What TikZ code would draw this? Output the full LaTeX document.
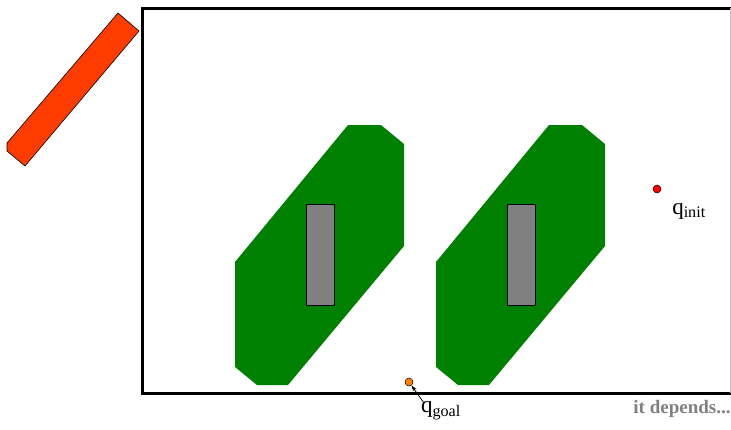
\documentclass[tikz,border=0pt]{standalone}
\usepackage{fontspec}
\setmainfont{Liberation Serif}
\usetikzlibrary{arrows.meta,positioning}

\definecolor{cspacegreen}{RGB}{0,128,0}
\definecolor{robotred}{RGB}{255,60,0}

\begin{document}
\begin{tikzpicture}[x=1pt, y=-1pt,
  wall/.style={line width=3pt, draw=black},
  cobst/.style={fill=cspacegreen, draw=none},
  obst/.style={fill=black!50, draw=black, line width=0.6pt},
  conf/.style={circle, draw=black, line width=0.5pt, inner sep=0pt, minimum size=8pt},
  lbl/.style={font=\fontsize{23}{25}\selectfont, inner sep=1pt},
  arr/.style={-{Stealth[length=6pt, width=4pt]}, line width=0.8pt},
]
\useasboundingbox (0,0) rectangle (731,429);

% workspace border
\draw[wall] (731,8) -- (142,8) -- (142,393) -- (731,393);
\draw[black!25, line width=0.8pt] (730,8) -- (730,393);

% robot
\draw[fill=robotred, draw=black, line width=0.6pt]
  (118,13) -- (139,31) -- (25,166) -- (7,151) -- (7,143) -- cycle;

% C-space obstacles with the real obstacles inside
\foreach \dx in {0,201} {
  \fill[cobst, xshift=\dx pt] (348,125) -- (381,125) -- (404,144) -- (404,246)
    -- (288,385) -- (257,385) -- (235,367) -- (235,262) -- cycle;
  \draw[obst, xshift=\dx pt] (306,204) rectangle (334,305);
}

% configurations
\node[conf, fill=red] (qinit) at (657,189) {};
\node[lbl] (qinitlbl) at (689,211) {q\textsubscript{init}};

\node[conf, fill=orange] (qgoal) at (409,382) {};
\node[lbl] (qgoallbl) at (441,411) {q\textsubscript{goal}};
\coordinate (qgoaltail) at (424,403);
\draw[arr] (qgoaltail) -- (qgoal);

\node[font=\bfseries\fontsize{19}{21}\selectfont, text=black!50] (note) at (682,409) {it depends...};
\end{tikzpicture}
\end{document}
